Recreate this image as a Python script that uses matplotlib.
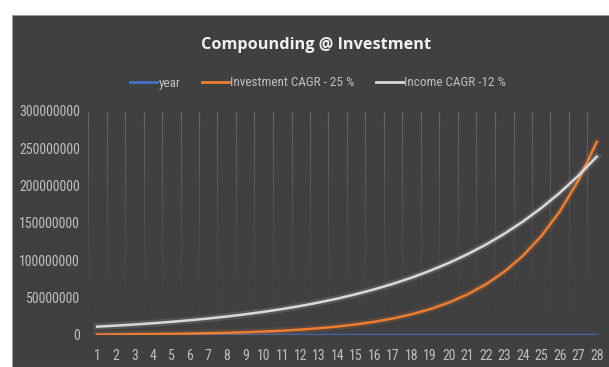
import matplotlib
matplotlib.use("Agg")
import matplotlib.pyplot as plt
import matplotlib.patheffects as pe
from matplotlib.patches import Rectangle
from matplotlib.ticker import FuncFormatter
from matplotlib import font_manager

years = list(range(1, 29))
year_series = years
investment = [625000, 781250, 976563, 1220703, 1525879, 1907349, 2384186, 2980232,
              3725290, 4656613, 5820766, 7275958, 9094947, 11368684, 14210855,
              17763568, 22204460, 27755576, 34694470, 43368087, 54210109,
              67762636, 84703295, 105879118, 132348898, 165436123, 206795153,
              258493941]
income = [11200000, 12544000, 14049280, 15735194, 17623417, 19738227, 22106814,
          24759632, 27730788, 31058483, 34785501, 38959761, 43634933, 48871125,
          54735660, 61303939, 68660412, 76899661, 86127620, 96462934, 108038486,
          121003104, 135523477, 151786294, 170000649, 190400727, 213248814,
          238838672]
yticks = [0, 50000000, 100000000, 150000000, 200000000, 250000000, 300000000]
title = "Compounding @ Investment"
labels = ["year", "Investment CAGR - 25 %", "Income CAGR -12 %"]

bg = "#404040"
txt = "#bfbfbf"
names = {f.name for f in font_manager.fontManager.ttflist}
font = [f for f in ["Liberation Sans Narrow", "Roboto Condensed", "Liberation Sans"]
        if f in names] + ["DejaVu Sans"]

fig = plt.figure(figsize=(6.09, 3.67), dpi=100, facecolor="white")
fig.patches.append(Rectangle((12 / 609, 0), 1, (367 - 15) / 367,
                             transform=fig.transFigure, facecolor=bg,
                             edgecolor="#9a9a9a", linewidth=0.8, zorder=-5))

ax = fig.add_axes([88 / 609, 32 / 367, (606 - 88) / 609, (335 - 111) / 367])
ax.set_zorder(2)
ax.patch.set_alpha(0)
for s in ax.spines.values():
    s.set_visible(False)

# faint fading vertical gridlines at category boundaries
ymax = yticks[-1]
nseg = 20
for b in range(len(years) + 1):
    xb = b + 0.5
    for k in range(nseg):
        y0 = ymax * (1 - k / nseg)
        y1 = ymax * (1 - (k + 1) / nseg)
        a = 0.4 * (1 - k / nseg) ** 1.5
        ax.plot([xb, xb], [y0, y1], color="#a0a0a0", alpha=a, lw=0.8,
                solid_capstyle="butt", zorder=1)

colors = ["#4472C4", "#ED7D31", "#D9D9D9"]
series = [year_series, investment, income]
for vals, c, lab in zip(series, colors, labels):
    ax.plot(years, vals, color=c, lw=1.8, label=lab, zorder=3,
            path_effects=[pe.Stroke(linewidth=5, foreground=c, alpha=0.15),
                          pe.Normal()])

ax.set_xlim(0.5, len(years) + 0.5)
ax.set_ylim(0, ymax)
ax.set_xticks(years)
ax.set_xticklabels([str(y) for y in years], fontsize=10, color=txt, family=font)
ax.set_yticks(yticks)
ax.yaxis.set_major_formatter(FuncFormatter(lambda v, p: f"{int(v)}"))
for t in ax.get_yticklabels():
    t.set_fontsize(10)
    t.set_color(txt)
    t.set_family(font)
ax.tick_params(axis="both", length=0)
ax.tick_params(axis="x", pad=10)
ax.tick_params(axis="y", pad=5.8)

fig.text(316 / 609, 1 - 45 / 367, title, ha="center", va="center", fontsize=11.7,
         fontweight="bold", color="#f0f0f0", family=["Open Sans", "DejaVu Sans"])

leg = fig.legend(loc="center", bbox_to_anchor=(318 / 609, 1 - 83 / 367), ncol=3,
                 frameon=False, handlelength=2.05,
                 columnspacing=1.6, handletextpad=0.1,
                 prop={"family": font, "size": 9.5})
for t in leg.get_texts():
    t.set_color(txt)
for h in leg.get_lines():
    h.set_path_effects([])
    h.set_linewidth(2)

fig.savefig("out.png", dpi=100, facecolor=fig.get_facecolor())
